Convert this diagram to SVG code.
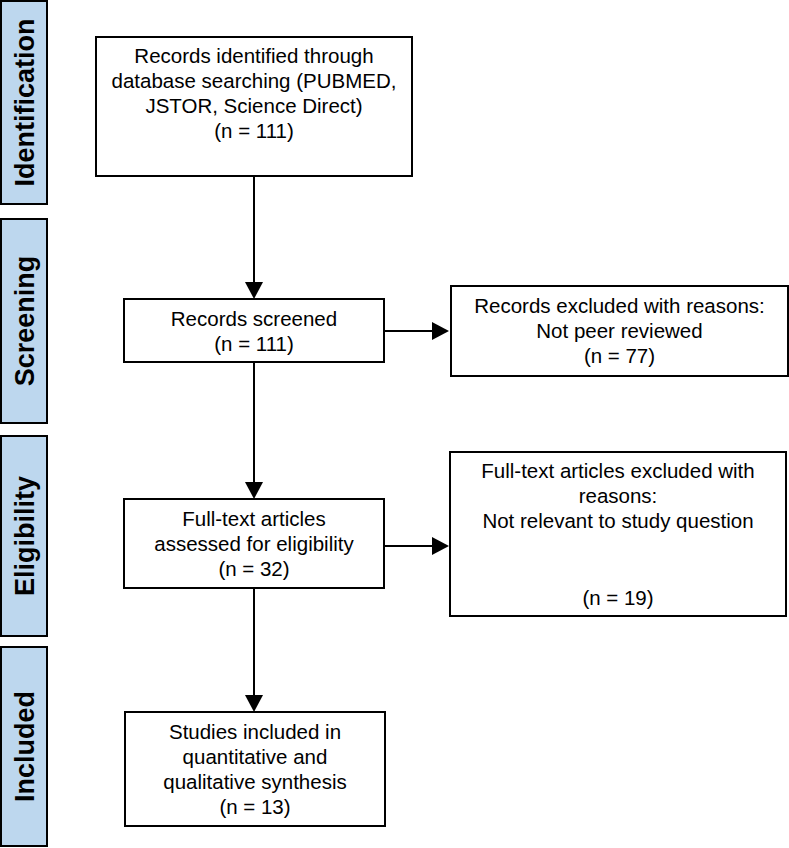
<svg xmlns="http://www.w3.org/2000/svg" width="789" height="848" viewBox="0 0 789 848">
  <style>
    .phase { fill: #bdd7ee; stroke: #000; stroke-width: 2; }
    .phase-label { font-family: "Liberation Sans", Arial, sans-serif; font-weight: bold; font-size: 27px; fill: #000; text-anchor: middle; }
    .box { fill: #fff; stroke: #000; stroke-width: 2; }
    .txt { font-family: "Liberation Sans", Arial, sans-serif; font-size: 20.5px; fill: #000; text-anchor: middle; }
    .conn { stroke: #000; stroke-width: 2; fill: none; marker-end: url(#arrow); }
  </style>
  <defs>
    <marker id="arrow" viewBox="0 0 17 18" markerWidth="17" markerHeight="18" refX="9" refY="9" orient="auto" markerUnits="userSpaceOnUse">
      <path d="M0,0 L17,9 L0,18 Z" fill="#000"/>
    </marker>
  </defs>
  <rect width="789" height="848" fill="#fff"/>

  <g id="phase-identification">
    <rect class="phase" x="1" y="1" width="46" height="203"/>
    <text class="phase-label" transform="translate(33.5,102.5) rotate(-90)">Identification</text>
  </g>
  <g id="phase-screening">
    <rect class="phase" x="1" y="219" width="46" height="204"/>
    <text class="phase-label" transform="translate(33.5,321) rotate(-90)">Screening</text>
  </g>
  <g id="phase-eligibility">
    <rect class="phase" x="1" y="436" width="46" height="200"/>
    <text class="phase-label" transform="translate(33.5,536) rotate(-90)">Eligibility</text>
  </g>
  <g id="phase-included">
    <rect class="phase" x="1" y="647" width="46" height="199"/>
    <text class="phase-label" transform="translate(33.5,746.5) rotate(-90)">Included</text>
  </g>

  <g id="connectors">
    <line class="conn" x1="254" y1="176" x2="254" y2="291"/>
    <line class="conn" x1="254" y1="362" x2="254" y2="491"/>
    <line class="conn" x1="254" y1="588" x2="254" y2="704"/>
    <line class="conn" x1="384" y1="331" x2="441" y2="331"/>
    <line class="conn" x1="384" y1="546" x2="441" y2="546"/>
  </g>

  <g id="records-identified">
    <rect class="box" x="96" y="37" width="316" height="139"/>
    <text class="txt" x="254" y="63">Records identified through</text>
    <text class="txt" x="254" y="88">database searching (PUBMED,</text>
    <text class="txt" x="254" y="113">JSTOR, Science Direct)</text>
    <text class="txt" x="254" y="138">(n = 111)</text>
  </g>
  <g id="records-screened">
    <rect class="box" x="124" y="299" width="260" height="63"/>
    <text class="txt" x="254" y="326">Records screened</text>
    <text class="txt" x="254" y="351">(n = 111)</text>
  </g>
  <g id="records-excluded">
    <rect class="box" x="451" y="286" width="337" height="90"/>
    <text class="txt" x="619.5" y="313">Records excluded with reasons:</text>
    <text class="txt" x="619.5" y="338">Not peer reviewed</text>
    <text class="txt" x="619.5" y="363">(n = 77)</text>
  </g>
  <g id="fulltext-assessed">
    <rect class="box" x="124" y="499" width="260" height="89"/>
    <text class="txt" x="254" y="526">Full-text articles</text>
    <text class="txt" x="254" y="551">assessed for eligibility</text>
    <text class="txt" x="254" y="576">(n = 32)</text>
  </g>
  <g id="fulltext-excluded">
    <rect class="box" x="450" y="452" width="336" height="164"/>
    <text class="txt" x="618" y="478">Full-text articles excluded with</text>
    <text class="txt" x="618" y="503">reasons:</text>
    <text class="txt" x="618" y="528">Not relevant to study question</text>
    <text class="txt" x="618" y="605">(n = 19)</text>
  </g>
  <g id="studies-included">
    <rect class="box" x="125" y="712" width="260" height="114"/>
    <text class="txt" x="255" y="739">Studies included in</text>
    <text class="txt" x="255" y="764">quantitative and</text>
    <text class="txt" x="255" y="789">qualitative synthesis</text>
    <text class="txt" x="255" y="814">(n = 13)</text>
  </g>
</svg>
